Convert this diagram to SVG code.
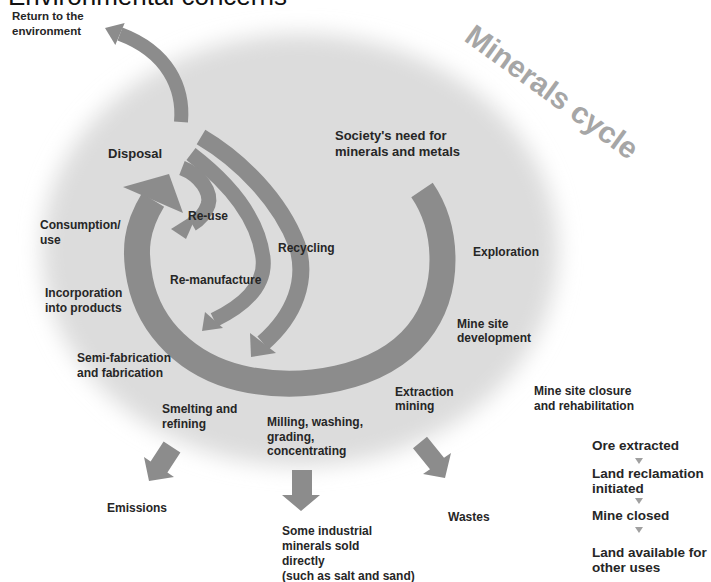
<svg xmlns="http://www.w3.org/2000/svg" width="711" height="582" viewBox="0 0 711 582">
<defs>
<style>
.t{font-family:"Liberation Sans",Arial,sans-serif;font-weight:bold;font-size:12px;fill:#262626}
.big{font-size:13px}
.lst{font-size:13.5px}
.sm{font-size:11.5px}
.band{fill:none;stroke:#8c8c8c;stroke-linecap:butt}
.arr{fill:#8c8c8c}
.tri{fill:#a0a0a0}
</style>
<filter id="blur" x="-20%" y="-20%" width="140%" height="140%"><feGaussianBlur stdDeviation="11"/></filter>
</defs>
<rect width="711" height="582" fill="#ffffff"/>
<ellipse id="blob" cx="300" cy="250" rx="258" ry="216" fill="#dcdcdc" filter="url(#blur)"/>
<text x="8" y="5" style="font-family:'Liberation Sans',Arial,sans-serif;font-size:26px;fill:#111">Environmental concerns</text>
<text transform="translate(463,40) rotate(36)" style="font-family:'Liberation Sans',Arial,sans-serif;font-weight:bold;font-size:30px;fill:#a6a6a6">Minerals cycle</text>

<g id="connectors">
  <!-- outer ring -->
  <path class="band" stroke-width="26" d="M422,190 C448,228 452,290 418,333 C380,380 300,392 240,378 C190,366 150,330 140,280 C134,250 136,228 153,200"/>
  <polygon class="arr" points="123,187 169,174 183,213"/>
  <!-- recycling -->
  <path class="band" stroke-width="17" d="M201,137 C240,160 280,200 297,245 C308,280 295,315 263,343"/>
  <polygon class="arr" points="250,333 276,353 251,357"/>
  <!-- re-manufacture -->
  <path class="band" stroke-width="15" d="M191,154 C225,180 258,215 263,258 C266,285 245,305 214,320"/>
  <polygon class="arr" points="205,312 223,328 202,331"/>
  <!-- re-use -->
  <path class="band" stroke-width="15" d="M182,168 C200,175 212,192 208,205 C205,214 199,220 192,224"/>
  <polygon class="arr" points="198,212 186,239 171,229"/>
  <!-- return to the environment -->
  <path class="band" stroke-width="14" d="M181,122 C184,88 168,52 120,34"/>
  <polygon class="arr" points="124.7,23 105,28 115.3,45"/>
  <!-- emissions -->
  <polygon class="arr" points="163.6,441.5 180.4,452.5 167.4,472.5 174,477 149,481 144,457 150.6,461.5"/>
  <!-- milling output -->
  <polygon class="arr" points="292,470 312,470 312,495 320,495 301,511 282,495 292,495"/>
  <!-- wastes -->
  <polygon class="arr" points="413,448.2 427,436.8 444,457.8 451,453 445,478 423,474 430,469.2"/>
  <!-- closure list arrows -->
  <polygon class="tri" points="635,458 643,458 639,464"/>
  <polygon class="tri" points="635,498 643,498 639,504"/>
  <polygon class="tri" points="635,527 643,527 639,533"/>
</g>

<g id="return"><text class="t sm" x="12" y="20">Return to the</text><text class="t sm" x="12" y="35">environment</text></g>
<g id="disposal"><text class="t big" x="108" y="158">Disposal</text></g>
<g id="society"><text class="t big" x="335" y="140">Society's need for</text><text class="t big" x="335" y="156">minerals and metals</text></g>
<g id="consumption"><text class="t" x="40" y="229">Consumption/</text><text class="t" x="40" y="244">use</text></g>
<g id="reuse"><text class="t" x="188" y="220">Re-use</text></g>
<g id="recycling"><text class="t" x="278" y="252">Recycling</text></g>
<g id="remanufacture"><text class="t" x="170" y="284">Re-manufacture</text></g>
<g id="exploration"><text class="t" x="473" y="256">Exploration</text></g>
<g id="incorporation"><text class="t" x="45" y="297">Incorporation</text><text class="t" x="45" y="312">into products</text></g>
<g id="minedev"><text class="t" x="457" y="328">Mine site</text><text class="t" x="457" y="342">development</text></g>
<g id="semifab"><text class="t" x="77" y="362">Semi-fabrication</text><text class="t" x="77" y="377">and fabrication</text></g>
<g id="extraction"><text class="t" x="395" y="396">Extraction</text><text class="t" x="395" y="410">mining</text></g>
<g id="closure"><text class="t" x="534" y="395">Mine site closure</text><text class="t" x="534" y="410">and rehabilitation</text></g>
<g id="smelting"><text class="t" x="162" y="413">Smelting and</text><text class="t" x="162" y="428">refining</text></g>
<g id="milling"><text class="t" x="267" y="426">Milling, washing,</text><text class="t" x="267" y="441">grading,</text><text class="t" x="267" y="455">concentrating</text></g>
<g id="emissions"><text class="t" x="107" y="512">Emissions</text></g>
<g id="wastes"><text class="t" x="448" y="521">Wastes</text></g>
<g id="industrial"><text class="t" x="282" y="535">Some industrial</text><text class="t" x="282" y="550">minerals sold</text><text class="t" x="282" y="565">directly</text><text class="t" x="282" y="580">(such as salt and sand)</text></g>
<g id="closurelist"><text class="t lst" x="592" y="450">Ore extracted</text><text class="t lst" x="592" y="478">Land reclamation</text><text class="t lst" x="592" y="493">initiated</text><text class="t lst" x="592" y="520">Mine closed</text><text class="t lst" x="592" y="557">Land available for</text><text class="t lst" x="592" y="572">other uses</text></g>
</svg>
